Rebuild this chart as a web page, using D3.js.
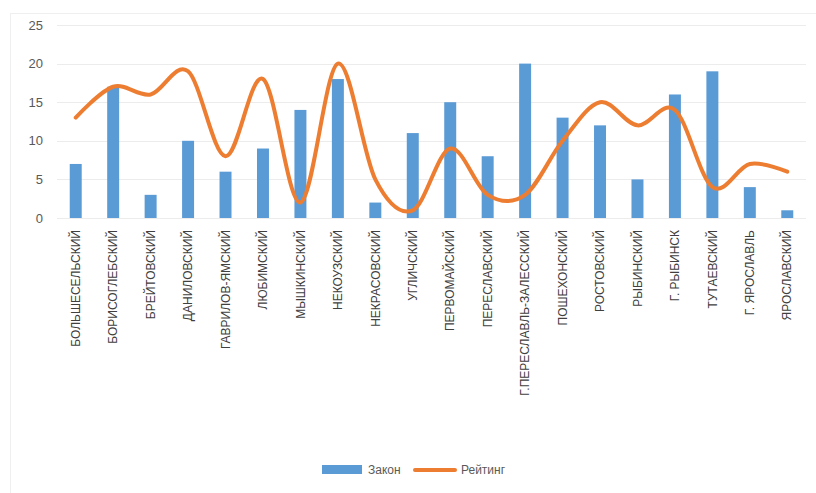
<!DOCTYPE html>
<html>
<head>
<meta charset="utf-8">
<script src="https://cdn.jsdelivr.net/npm/d3@7"></script>
<style>
  body { margin: 0; background: #fff; }
  svg { font-family: "Liberation Sans", Arial, sans-serif; }
</style>
</head>
<body>
<svg id="chart"></svg>
<script>
const districts = ["БОЛЬШЕСЕЛЬСКИЙ", "БОРИСОГЛЕБСКИЙ", "БРЕЙТОВСКИЙ", "ДАНИЛОВСКИЙ",
  "ГАВРИЛОВ-ЯМСКИЙ", "ЛЮБИМСКИЙ", "МЫШКИНСКИЙ", "НЕКОУЗСКИЙ", "НЕКРАСОВСКИЙ",
  "УГЛИЧСКИЙ", "ПЕРВОМАЙСКИЙ", "ПЕРЕСЛАВСКИЙ", "Г.ПЕРЕСЛАВЛЬ-ЗАЛЕССКИЙ",
  "ПОШЕХОНСКИЙ", "РОСТОВСКИЙ", "РЫБИНСКИЙ", "Г. РЫБИНСК", "ТУТАЕВСКИЙ",
  "Г. ЯРОСЛАВЛЬ", "ЯРОСЛАВСКИЙ"]
const zakon = [7, 17, 3, 10, 6, 9, 14, 18, 2, 11, 15, 8, 20, 13, 12, 5, 16, 19, 4, 1]
const rating = [13, 17, 16, 19, 8, 18, 2, 20, 5, 1, 9, 3, 3, 10, 15, 12, 14, 4, 7, 6]
const yTicks = [0, 5, 10, 15, 20, 25]

const width = 816
const height = 493
const margin = {top: 25, right: 10, bottom: 275, left: 57}
const plotH = height - margin.top - margin.bottom   // 0 sits at y ~218

const svg = d3.select("#chart")
  .attr("width", width)
  .attr("height", height)

// light chart frame
svg.append("rect")
  .attr("x", 10.5).attr("y", 13.5)
  .attr("width", 820).attr("height", 500)
  .attr("fill", "none")
  .attr("stroke", "#efefef")

const g = svg.append("g")
  .attr("transform", "translate(" + margin.left + "," + margin.top + ")")

const x = d3.scaleBand()
  .domain(districts)
  .range([0, 749])
  .paddingInner(0.68)
  .paddingOuter(0.34)

const y = d3.scaleLinear()
  .domain([0, 25])
  .range([193, 0])

// gridlines
g.append("g")
  .selectAll("line")
  .data(yTicks)
  .enter()
  .append("line")
    .attr("x1", 0)
    .attr("x2", 749)
    .attr("y1", d => Math.round(y(d)) + 0.5)
    .attr("y2", d => Math.round(y(d)) + 0.5)
    .attr("stroke", "#ececec")
    .attr("stroke-width", 1)

// y axis labels
const yAxis = g.append("g")
  .call(d3.axisLeft(y).tickValues(yTicks).tickSize(0).tickPadding(14))
yAxis.select(".domain").remove()
yAxis.selectAll("text")
  .attr("fill", "#595959")
  .style("font-size", "13px")

// x axis labels
const xAxis = g.append("g")
  .attr("transform", "translate(0," + y(0) + ")")
  .call(d3.axisBottom(x).tickSize(0))
xAxis.select(".domain").remove()
xAxis.selectAll("text")
  .attr("fill", "#404040")
  .style("font-size", "12px")
  .attr("text-anchor", "end")
  .attr("transform", "rotate(-90)")
  .attr("x", -12)
  .attr("y", 0)
  .attr("dy", "0.35em")

// bars
g.selectAll("rect.bar")
  .data(zakon)
  .enter()
  .append("rect")
    .attr("class", "bar")
    .attr("x", (d, i) => x(districts[i]))
    .attr("y", d => y(d))
    .attr("width", x.bandwidth())
    .attr("height", d => y(0) - y(d))
    .style("fill", "#5B9BD5")

// rating line
const line = d3.line()
  .x((d, i) => x(districts[i]) + x.bandwidth() / 2)
  .y(d => y(d))
  .curve(d3.curveCardinal.tension(0))

g.append("path")
  .datum(rating)
  .attr("d", line)
  .attr("fill", "none")
  .attr("stroke", "#ED7D31")
  .attr("stroke-width", 4)
  .attr("stroke-linecap", "round")

// legend
const legend = svg.append("g")
  .attr("transform", "translate(322,470)")
legend.append("rect")
  .attr("x", 0).attr("y", -5)
  .attr("width", 40).attr("height", 9)
  .style("fill", "#5B9BD5")
legend.append("text")
  .attr("x", 46).attr("y", 0).attr("dy", "0.35em")
  .attr("fill", "#595959")
  .style("font-size", "12px")
  .text("Закон")
legend.append("line")
  .attr("x1", 93).attr("x2", 133)
  .attr("y1", 0).attr("y2", 0)
  .attr("stroke", "#ED7D31")
  .attr("stroke-width", 4)
  .attr("stroke-linecap", "round")
legend.append("text")
  .attr("x", 139).attr("y", 0).attr("dy", "0.35em")
  .attr("fill", "#595959")
  .style("font-size", "12px")
  .text("Рейтинг")
</script>
</body>
</html>
